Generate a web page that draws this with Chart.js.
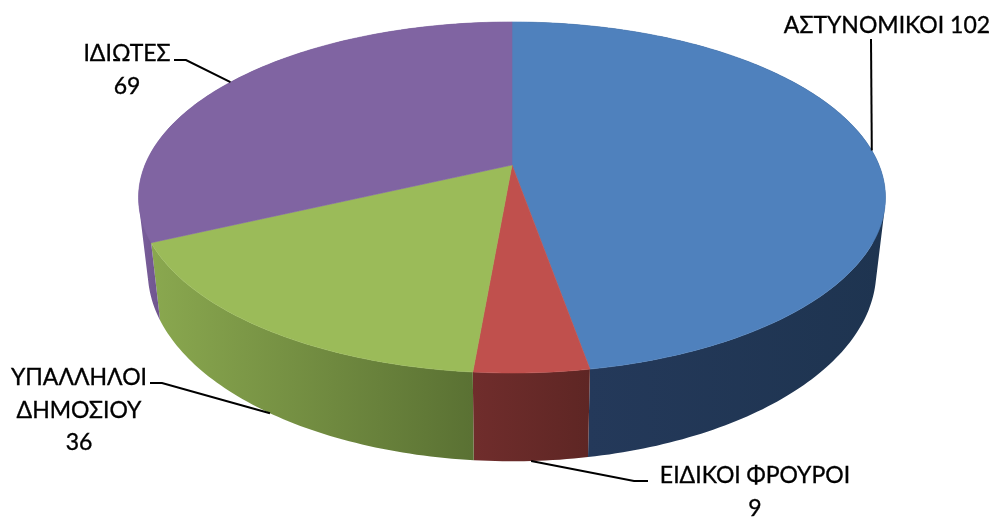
<!DOCTYPE html>
<html>
<head>
<meta charset="utf-8">
<title>pie</title>
<script src="https://cdn.jsdelivr.net/npm/chart.js@4"></script>
<style>
    html, body { margin: 0; padding: 0; background: #fff; }
    canvas { display: block; }
</style>
</head>
<body>
<canvas id="pie" width="993" height="517"></canvas>
<script>
categories = ["ΑΣΤΥΝΟΜΙΚΟΙ", "ΕΙΔΙΚΟΙ ΦΡΟΥΡΟΙ", "ΥΠΑΛΛΗΛΟΙ ΔΗΜΟΣΙΟΥ", "ΙΔΙΩΤΕΣ"]
values = [102, 9, 36, 69]

top_colors = ["#4f81bd", "#c0504d", "#9bbb59", "#8064a2"]
wall_left = ["#24395a", "#702d2c", "#8aa84f", "#7a5f9c"]
wall_right = ["#1e3450", "#5e2624", "#5a7133", "#64497f"]

// perspective of the pie: top plane and bottom plane
top_plane = {cx: 512, cy: 165, a: 367, b: 169.5, k: 0.185}
bottom_plane = {cx: 512, cy: 236, a: 358, b: 183.6, k: 0.185}

function project(plane, theta) {
    let u = Math.sin(theta);
    let v = -Math.cos(theta);
    let s = 1 / (1 - plane.k * v);
    return {x: plane.cx + plane.a * u * s, y: plane.cy + plane.b * v * s};
}
// chart.js angles start at 3 o'clock, ours at 12 o'clock
function theta_of(angle) {
    return angle + Math.PI / 2;
}
function edge_points(plane, start, end) {
    let points = [];
    let steps = Math.max(4, Math.ceil((end - start) * 60));
    for(let i = 0; i <= steps; i++) {
        points.push(project(plane, start + (end - start) * i / steps));
    }
    return points;
}

label_lines = [
    [`${categories[0]} ${values[0]}`],
    [categories[1], `${values[1]}`],
    ["ΥΠΑΛΛΗΛΟΙ", "ΔΗΜΟΣΙΟΥ", `${values[2]}`],
    [categories[3], `${values[3]}`]
]
label_x = [887, 755, 79, 127]
label_y = [33, 483, 385, 61]
leader_points = [
    [[871, 39]],
    [[648, 481], [634, 481]],
    [[150, 383], [162, 383]],
    [[174, 60], [186, 60]]
]
leader_plane = [top_plane, bottom_plane, bottom_plane, top_plane]

const pie3d = {
    id: "pie3d",
    beforeDatasetsDraw(chart) {
        let ctx = chart.ctx;
        let arcs = chart.getDatasetMeta(0).data;
        // walls first, the top face covers whatever is at the back
        arcs.forEach((arc, i) => {
            let start = theta_of(arc.startAngle);
            let end = theta_of(arc.endAngle);
            let upper = edge_points(top_plane, start, end);
            let lower = edge_points(bottom_plane, start, end);
            let xs = upper.concat(lower).filter(p => p.y > 190).map(p => p.x);
            let gradient = ctx.createLinearGradient(Math.min(...xs), 0, Math.max(...xs), 0);
            gradient.addColorStop(0, wall_left[i]);
            gradient.addColorStop(1, wall_right[i]);
            // one small quad per step so the silhouette stays straight between the planes
            ctx.beginPath();
            for(let j = 0; j < upper.length - 1; j++) {
                let quad = [upper[j], upper[j + 1], lower[j + 1], lower[j]];
                let area = 0;
                quad.forEach((p, n) => {
                    let q = quad[(n + 1) % 4];
                    area += p.x * q.y - q.x * p.y;
                });
                if(area < 0) quad.reverse();
                quad.forEach((p, n) => n == 0 ? ctx.moveTo(p.x, p.y) : ctx.lineTo(p.x, p.y));
                ctx.closePath();
            }
            ctx.fillStyle = gradient;
            ctx.fill();
        });
        arcs.forEach((arc, i) => {
            let upper = edge_points(top_plane, theta_of(arc.startAngle), theta_of(arc.endAngle));
            ctx.beginPath();
            ctx.moveTo(top_plane.cx, top_plane.cy);
            upper.forEach(p => ctx.lineTo(p.x, p.y));
            ctx.closePath();
            ctx.fillStyle = top_colors[i];
            ctx.fill();
            // hides the light seam between neighbouring slices
            ctx.strokeStyle = top_colors[i];
            ctx.lineWidth = 0.6;
            ctx.stroke();
        });
        // leader lines end at the middle of each slice
        arcs.forEach((arc, i) => {
            let end = project(leader_plane[i], theta_of((arc.startAngle + arc.endAngle) / 2));
            ctx.beginPath();
            leader_points[i].forEach((p, j) => j == 0 ? ctx.moveTo(p[0], p[1]) : ctx.lineTo(p[0], p[1]));
            ctx.lineTo(end.x, end.y);
            ctx.strokeStyle = "#000";
            ctx.lineWidth = 2;
            ctx.stroke();
        });
        ctx.fillStyle = "#000";
        ctx.strokeStyle = "#000";
        ctx.lineWidth = 0.35;
        ctx.font = "23px Lato, 'Open Sans', sans-serif";
        ctx.textAlign = "center";
        ctx.textBaseline = "alphabetic";
        label_lines.forEach((lines, i) => {
            lines.forEach((line, j) => {
                ctx.fillText(line, label_x[i], label_y[i] + j * 32.5);
                ctx.strokeText(line, label_x[i], label_y[i] + j * 32.5);
            });
        });
        return false;
    }
};

new Chart(document.getElementById("pie").getContext("2d"), {
    type: "pie",
    data: {
        labels: categories,
        datasets: [{
            data: values,
            backgroundColor: top_colors,
            borderWidth: 0
        }]
    },
    options: {
        responsive: false,
        animation: false,
        plugins: {
            legend: {display: false},
            tooltip: {enabled: false}
        }
    },
    plugins: [pie3d]
});
</script>
</body>
</html>
